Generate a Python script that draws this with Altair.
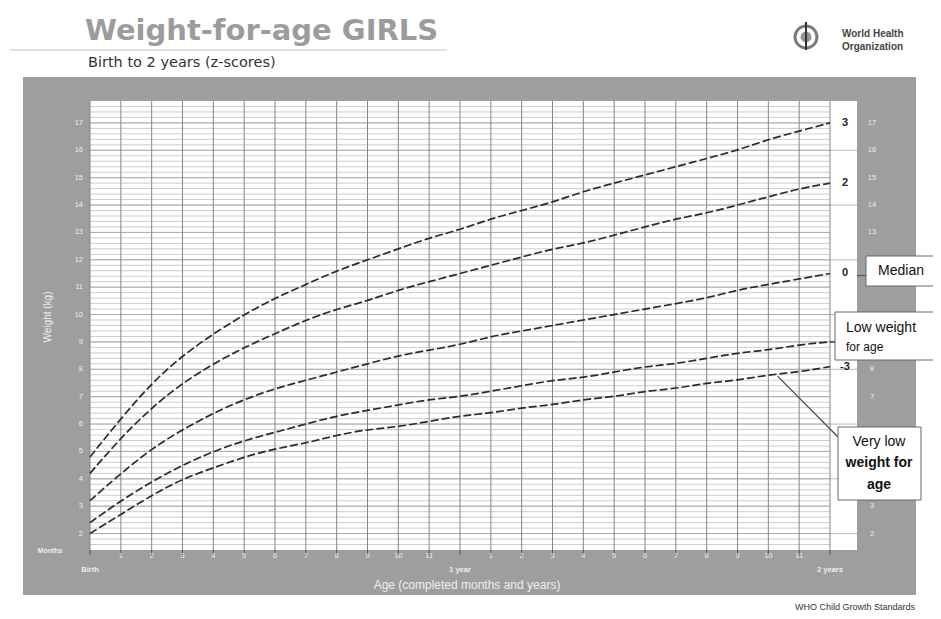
import altair as alt
import pandas as pd
import numpy as np

# ---- data (WHO weight-for-age, girls, birth to 2 years) ----
months = list(range(25))
sd3neg = [2.0, 2.7, 3.4, 4.0, 4.4, 4.8, 5.1, 5.3, 5.6, 5.8, 5.9, 6.1, 6.3, 6.4, 6.6, 6.7, 6.9, 7.0, 7.2, 7.3, 7.5, 7.6, 7.8, 7.9, 8.1]
sd2neg = [2.4, 3.2, 3.9, 4.5, 5.0, 5.4, 5.7, 6.0, 6.3, 6.5, 6.7, 6.9, 7.0, 7.2, 7.4, 7.6, 7.7, 7.9, 8.1, 8.2, 8.4, 8.6, 8.7, 8.9, 9.0]
median = [3.2, 4.2, 5.1, 5.8, 6.4, 6.9, 7.3, 7.6, 7.9, 8.2, 8.5, 8.7, 8.9, 9.2, 9.4, 9.6, 9.8, 10.0, 10.2, 10.4, 10.6, 10.9, 11.1, 11.3, 11.5]
sd2 = [4.2, 5.5, 6.6, 7.5, 8.2, 8.8, 9.3, 9.8, 10.2, 10.5, 10.9, 11.2, 11.5, 11.8, 12.1, 12.4, 12.6, 12.9, 13.2, 13.5, 13.7, 14.0, 14.3, 14.6, 14.8]
sd3 = [4.8, 6.2, 7.5, 8.5, 9.3, 10.0, 10.6, 11.1, 11.6, 12.0, 12.4, 12.8, 13.1, 13.5, 13.8, 14.1, 14.5, 14.8, 15.1, 15.4, 15.7, 16.0, 16.4, 16.7, 17.0]
z_names = ["3", "2", "0", "-2", "-3"]
z_shown = ["3", "2", "0", "-3"]                   # "-2" sits behind the "Low weight" box
y_ticks_left = list(range(2, 18))
y_ticks_right = [2, 3, 7, 8, 13, 14, 15, 16, 17]   # the others sit behind the note boxes
x_year_labels = ["Birth", "1 year", "2 years"]
x_year_months = [0, 12, 24]

W, H = 740, 449
XD = [0, 24]
YD = [1.4, 17.8]
xs = alt.Scale(domain=XD, nice=False, zero=False)
ys = alt.Scale(domain=YD, nice=False, zero=False)

series = {"3": sd3, "2": sd2, "0": median, "-2": sd2neg, "-3": sd3neg}
curves = pd.DataFrame([{"month": m, "weight": series[z][i], "z": z}
                       for z in z_names for i, m in enumerate(months)])

LIGHT = "#eeeeee"
FONT = "Liberation Sans"


def X(field="month"):
    return alt.X(f"{field}:Q", scale=xs, axis=None)


def Y(field="weight"):
    return alt.Y(f"{field}:Q", scale=ys, axis=None)


def txt(s, x, y, size=10, color=LIGHT, weight="normal", align="center",
        baseline="middle", angle=0, font=FONT):
    kw = dict(text=s, fontSize=size, color=color, fontWeight=weight,
              align=align, baseline=baseline, font=font)
    if angle:
        kw["angle"] = angle
    return alt.Chart(pd.DataFrame({"t": [s]})).mark_text(**kw).encode(
        x=alt.value(x), y=alt.value(y))


def box(x1, x2, y1, y2, fill, stroke=None, sw=1):
    kw = dict(color=fill)
    if stroke:
        kw.update(stroke=stroke, strokeWidth=sw)
    return alt.Chart(pd.DataFrame({"a": [0]})).mark_rect(**kw).encode(
        x=alt.value(x1), x2=alt.value(x2), y=alt.value(y1), y2=alt.value(y2))


def seg(x1, y1, x2, y2, color="#444", sw=1):
    return alt.Chart(pd.DataFrame({"a": [0]})).mark_rule(color=color, strokeWidth=sw).encode(
        x=alt.value(x1), x2=alt.value(x2), y=alt.value(y1), y2=alt.value(y2))


layers = []
# gray panel and white plot area
layers.append(box(-67, 826, -24, 494, "#9e9e9e"))
layers.append(box(0, 767, 0, H, "#ffffff"))

# horizontal grid
minor = pd.DataFrame({"kg": np.round(np.arange(1.6, 17.8, 0.2), 1)})
layers.append(alt.Chart(minor).mark_rule(color="#cdcdcd", strokeWidth=1).encode(
    y=Y("kg"), x=alt.value(0), x2=alt.value(W)))
major = pd.DataFrame({"kg": list(range(2, 18))})
layers.append(alt.Chart(major).mark_rule(color="#acacac", strokeWidth=1).encode(
    y=Y("kg"), x=alt.value(0), x2=alt.value(W)))
even = pd.DataFrame({"kg": list(range(2, 18, 2))})
layers.append(alt.Chart(even).mark_rule(color="#bbbbbb", strokeWidth=1).encode(
    y=Y("kg"), x=alt.value(W), x2=alt.value(767)))

# vertical month grid
mdf = pd.DataFrame({"month": months})
layers.append(alt.Chart(mdf).mark_rule(color="#858585", strokeWidth=1).encode(
    x=X(), y=alt.value(0), y2=alt.value(H)))
# ticks below
layers.append(alt.Chart(mdf).mark_rule(color="#555555", strokeWidth=1).encode(
    x=X(), y=alt.value(H), y2=alt.value(H + 5)))

# curves
layers.append(alt.Chart(curves).mark_line(color="#2a2a2a", strokeWidth=1.7,
                                          strokeDash=[8, 3], interpolate="basis").encode(
    x=X(), y=Y(), detail="z:N"))

# z-score labels at curve ends
zl = pd.DataFrame({"z": z_shown, "weight": [series[z][-1] for z in z_shown]})
layers.append(alt.Chart(zl).mark_text(fontSize=11, fontWeight="bold", color="#222",
                                      align="center", baseline="middle", font=FONT).encode(
    x=alt.value(755), y=Y(), text="z:N"))

# y axis labels (left and right)
yl = pd.DataFrame({"kg": y_ticks_left, "lab": [str(v) for v in y_ticks_left]})
layers.append(alt.Chart(yl).mark_text(fontSize=7.5, color=LIGHT, align="right",
                                      baseline="middle", font=FONT).encode(
    x=alt.value(-7), y=Y("kg"), text="lab:N"))
yr = pd.DataFrame({"kg": y_ticks_right, "lab": [str(v) for v in y_ticks_right]})
layers.append(alt.Chart(yr).mark_text(fontSize=7.5, color=LIGHT, align="center",
                                      baseline="middle", font=FONT).encode(
    x=alt.value(782), y=Y("kg"), text="lab:N"))

# x month labels
ml = [m for m in months if m % 12 != 0]
mlab = pd.DataFrame({"month": ml, "lab": [str(m % 12) for m in ml]})
layers.append(alt.Chart(mlab).mark_text(fontSize=7.5, color=LIGHT, align="center",
                                        baseline="middle", font=FONT).encode(
    x=X(), y=alt.value(H + 6), text="lab:N"))
ylab = pd.DataFrame({"month": x_year_months, "lab": x_year_labels})
layers.append(alt.Chart(ylab).mark_text(fontSize=7.5, color=LIGHT, fontWeight="bold",
                                        align="center", baseline="middle", font=FONT).encode(
    x=X(), y=alt.value(H + 20), text="lab:N"))

# axis titles and misc text
layers.append(txt("Months", -40, 450, size=7, weight="bold"))
layers.append(txt("Weight (kg)", -42, 216, size=10, angle=270))
layers.append(txt("Age (completed months and years)", 377, 484, size=12))

# title block
layers.append(txt("Weight-for-age GIRLS", -5, -70, size=29, color="#9c9c9c", weight="bold",
                  align="left", font="DejaVu Sans"))
layers.append(seg(-80, -51, 357, -51, color="#c4c4c4", sw=1))
layers.append(txt("Birth to 2 years (z-scores)", -2, -38, size=14.5, color="#333333",
                  align="left", font="DejaVu Sans"))

# WHO emblem and name
layers.append(alt.Chart(pd.DataFrame({"a": [0]})).mark_point(
    shape="circle", filled=False, stroke="#444444", strokeWidth=3, size=480).encode(
    x=alt.value(716), y=alt.value(-64)))
layers.append(alt.Chart(pd.DataFrame({"a": [0]})).mark_point(
    shape="circle", filled=True, color="#666666", size=120).encode(
    x=alt.value(716), y=alt.value(-64)))
layers.append(seg(716, -79, 716, -51, color="#333333", sw=2))
layers.append(txt("World Health", 752, -67, size=10, color="#444444", weight="bold", align="left"))
layers.append(txt("Organization", 752, -54, size=10, color="#444444", weight="bold", align="left"))

# footer
layers.append(txt("WHO Child Growth Standards", 825, 506, size=9, color="#333333", align="right"))

# annotation boxes
med_y = (YD[1] - median[-1]) / (YD[1] - YD[0]) * H
layers.append(seg(767, med_y + 2, 776, med_y + 2, color="#555555", sw=1.2))
layers.append(box(776, 846, 155, 185, "#ffffff", "#666666", 1))
layers.append(txt("Median", 811, 170, size=14, color="#111111"))

low_y = (YD[1] - sd2neg[-1]) / (YD[1] - YD[0]) * H
layers.append(seg(W, low_y, 745, low_y, color="#333333", sw=1.5))
layers.append(box(745, 860, 211, 259, "#ffffff", "#666666", 1))
layers.append(txt("Low weight", 756, 227, size=14, color="#111111", align="left"))
layers.append(txt("for age", 756, 246, size=12, color="#111111", align="left"))

ptr = pd.DataFrame({"month": [22.3], "weight": [7.75]})
layers.append(alt.Chart(ptr).mark_rule(color="#444444", strokeWidth=1.2).encode(
    x=X(), y=Y(), x2=alt.value(748), y2=alt.value(336)))
layers.append(box(748, 831, 326, 399, "#ffffff", "#666666", 1))
layers.append(txt("Very low", 789, 341, size=14, color="#111111"))
layers.append(txt("weight for", 789, 362, size=14, color="#111111", weight="bold"))
layers.append(txt("age", 789, 384, size=14, color="#111111", weight="bold"))

chart = alt.layer(*layers).properties(
    width=W, height=H,
    autosize=alt.AutoSizeParams(type="none"),
    padding={"left": 82, "top": 93, "right": 103, "bottom": 61},
    background="#ffffff",
).configure_view(stroke=None)

chart.save("out.html", embed_options={"renderer": "svg", "actions": False})
